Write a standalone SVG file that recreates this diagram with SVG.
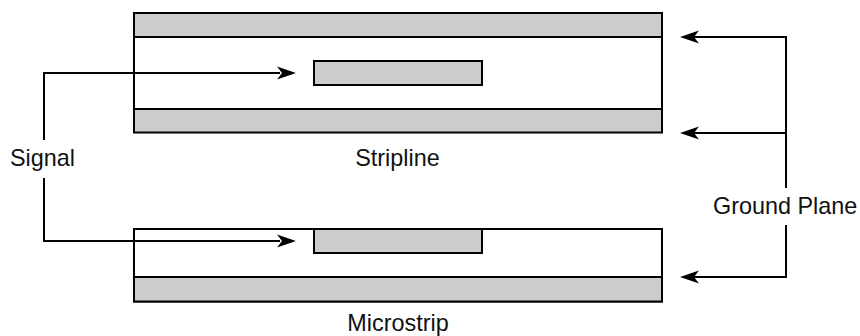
<svg xmlns="http://www.w3.org/2000/svg" width="860" height="336" viewBox="0 0 860 336">
<style>
.b{fill:#fff;stroke:#000;stroke-width:2}
.g{fill:#ccc;stroke:#000;stroke-width:2}
.c{fill:none;stroke:#000;stroke-width:2}
.a{fill:#000;stroke:none}
text{font-family:"Liberation Sans",Arial,sans-serif;font-size:23.400px;fill:#111}
</style>
<defs>
<path id="ar" class="a" d="M0 0L-19 -6.500L-14 0L-19 6.500Z"/>
<path id="al" class="a" d="M0 0L19 -6.500L14 0L19 6.500Z"/>
</defs>
<rect width="860" height="336" fill="#fff"/>
<g id="stripline">
<rect class="b" x="134" y="13" width="528" height="119"/>
<rect class="g" x="134" y="13" width="528" height="24"/>
<rect class="g" x="134" y="109" width="528" height="23.500"/>
<rect class="g" x="314" y="61" width="168" height="24"/>
<text x="397.500" y="166" text-anchor="middle">Stripline</text>
</g>
<g id="microstrip">
<rect class="b" x="134" y="229" width="528" height="72.500"/>
<rect class="g" x="134" y="277" width="528" height="24.500"/>
<rect class="g" x="314" y="229" width="168" height="24"/>
<text x="398" y="331" text-anchor="middle">Microstrip</text>
</g>
<g id="signal"><text x="10" y="166">Signal</text></g>
<g id="ground-plane"><text x="713" y="213.500">Ground Plane</text></g>
<g id="connectors">
<path class="c" d="M44 140V73H280"/>
<path class="c" d="M44 178V241H280"/>
<path class="c" d="M694 37H786V188"/>
<path class="c" d="M694 133H786"/>
<path class="c" d="M786 225V277H694"/>
<use href="#ar" x="296" y="73"/>
<use href="#ar" x="296" y="241"/>
<use href="#al" x="680" y="37"/>
<use href="#al" x="680" y="133"/>
<use href="#al" x="680" y="277"/>
</g>
</svg>
